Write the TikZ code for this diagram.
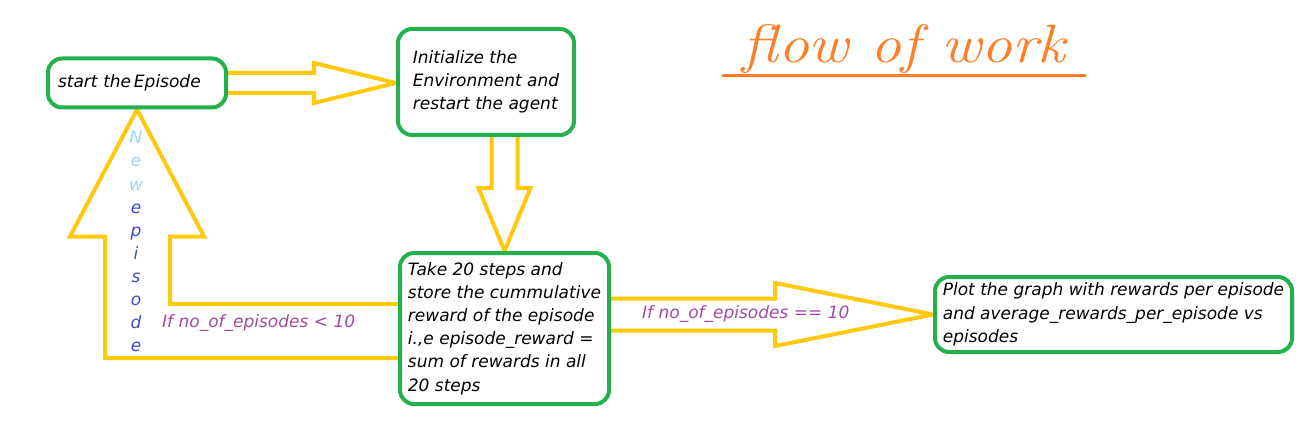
\documentclass[tikz,border=0pt]{standalone}
\usepackage{fontspec}
\usepackage{xcolor}
\usetikzlibrary{calc}
\newfontfamily\boxfamily{DejaVu Sans}
\definecolor{boxgreen}{HTML}{22B14C}
\definecolor{flowgold}{HTML}{FFC90E}
\definecolor{titleorange}{HTML}{FF7F27}
\definecolor{condpurple}{HTML}{A349A4}
\definecolor{newblue}{HTML}{99D9EA}
\definecolor{epblue}{HTML}{3F48CC}
\newcommand{\boxtxt}{\boxfamily\itshape\fontsize{17}{23.2}\selectfont}
\newcommand{\titletxt}{\itshape\fontsize{54}{58}\selectfont}
\pgfdeclarelayer{arrowlayer}
\pgfsetlayers{arrowlayer,main}

\begin{document}
\begin{tikzpicture}[x=1pt, y=-1pt,
  flowbox/.style={draw=boxgreen, line width=4pt, rounded corners=14pt, fill=white, align=left, font=\boxtxt, inner sep=0pt},
  blockarrow/.style={draw=flowgold, line width=4pt, line join=miter},
  condlabel/.style={text=condpurple, font=\boxtxt, inner sep=0pt}]
\useasboundingbox (0,0) rectangle (1309,441);
% ---- the four steps
\node[flowbox, minimum width=178pt, minimum height=49pt, text width=158pt] (start) at (137,83)
  {start the\,Episode};
\node[flowbox, minimum width=176pt, minimum height=106pt] (init) at (486,82)
  {Initialize the\\Environment and\\restart the agent};
\node[flowbox, minimum width=209pt, minimum height=151pt] (take) at (504.5,328.5)
  {Take 20 steps and\\store the cummulative\\reward of the episode\\i.,e episode\_reward =\\sum of rewards in all\\20 steps};
\node[flowbox, minimum width=357pt, minimum height=75pt] (plot) at (1113.5,314.5)
  {Plot the graph with rewards per episode\\and average\_rewards\_per\_episode vs\\episodes};
% ---- title
\node[text=titleorange, font=\titletxt, inner sep=0pt, minimum width=362pt, anchor=base] (title) at (904,63)
  {\scalebox{1.14}[1]{flow of work}};
\draw[titleorange, line width=3pt, line cap=round] ($(title.base west)+(0,13)$) -- ($(title.base east)+(0,13)$);
% ---- block arrows (behind the boxes)
\begin{pgfonlayer}{arrowlayer}
\draw[blockarrow] ($(start.east)+(0,-10)$) -- ++(86,0) -- ++(0,-10) -- (init.west |- start.east)
  -- ($(start.east)+(86,20)$) -- ++(0,-10) -- ++(-86,0);
\draw[blockarrow] ($(take.north |- init.south)+(-13,0)$) -- ++(0,51) -- ++(-13,0) -- (take.north)
  -- ($(take.north |- init.south)+(26,51)$) -- ++(-13,0) -- ++(0,-51);
\draw[blockarrow] ($(take.east |- plot.west)+(0,-16)$) -- ++(164,0) -- ++(0,-15.5) -- (plot.west)
  -- ($(take.east |- plot.west)+(164,31.5)$) -- ++(0,-15.5) -- ++(-164,0);
% loop back to a new episode
\coordinate (loopin) at ($(take.west)+(0,-24.5)$);
\coordinate (loopout) at ($(take.west)+(0,29.5)$);
\coordinate (shaftR) at ($(start.south)+(33,0)$);
\coordinate (shaftL) at ($(start.south)+(-32,0)$);
\draw[blockarrow] (loopin) -- (loopin -| shaftR) -- ($(start.south)+(33,127)$) -- ($(start.south)+(67,127)$)
  -- (start.south) -- ($(start.south)+(-67,127)$) -- ($(start.south)+(-32,127)$) -- (loopout -| shaftL) -- (loopout);
\end{pgfonlayer}
% ---- labels
\node[condlabel, anchor=west] (condeq) at ($(take.east |- plot.west)+(31,0)$) {If no\_of\_episodes == 10};
\node[condlabel, anchor=west] (condless) at (162,323) {If no\_of\_episodes < 10};
\foreach \ch [count=\i] in {N,e,w,e,p,i,s,o,d,e}{
  \ifnum\i<4 \def\lc{newblue}\else\def\lc{epblue}\fi
  \node[text=\lc, font=\boxtxt, inner sep=0pt, anchor=base] (nl\i) at (136,121+23*\i) {\ch};
}
\end{tikzpicture}
\end{document}
